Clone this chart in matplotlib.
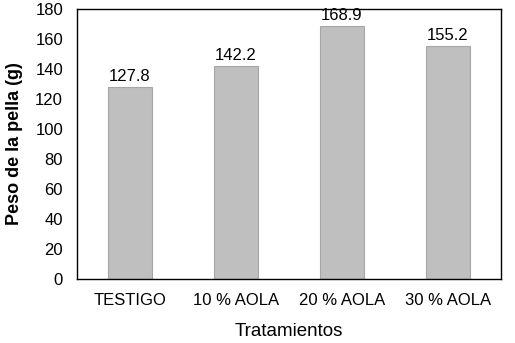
import numpy as np
import matplotlib.pyplot as plt

plt.rcParams['font.family'] = ['Liberation Sans', 'DejaVu Sans']

tratamientos = ["TESTIGO", "10 % AOLA", "20 % AOLA", "30 % AOLA"]
peso = [127.8, 142.2, 168.9, 155.2]

fig = plt.figure(figsize=(5.15, 3.43), dpi=100)
ax = fig.add_axes([77/515, 1-279/343, (501-77)/515, (279-9)/343])

x = np.arange(len(tratamientos))
ax.bar(x, peso, width=0.415, color="#BFBFBF", edgecolor="#A6A6A6", linewidth=0.8)
for xi, v in zip(x, peso):
    ax.text(xi, v + 2, "%.1f" % v, ha="center", va="bottom", fontsize=12)

ax.set_xlim(-0.5, len(tratamientos) - 0.5)
ax.set_ylim(0, 180)
ax.set_yticks(range(0, 181, 20))
ax.set_xticks(x)
ax.set_xticklabels(tratamientos)
ax.tick_params(axis="both", length=0, labelsize=12)
ax.tick_params(axis="x", pad=10)
ax.tick_params(axis="y", pad=10)
for s in ax.spines.values():
    s.set_linewidth(1.0)
    s.set_color("black")

ax.set_xlabel("Tratamientos", fontsize=13.5, labelpad=11)
ax.set_ylabel("Peso de la pella (g)", fontsize=13, fontweight="bold", labelpad=9)

fig.savefig("out.png", dpi=100)
